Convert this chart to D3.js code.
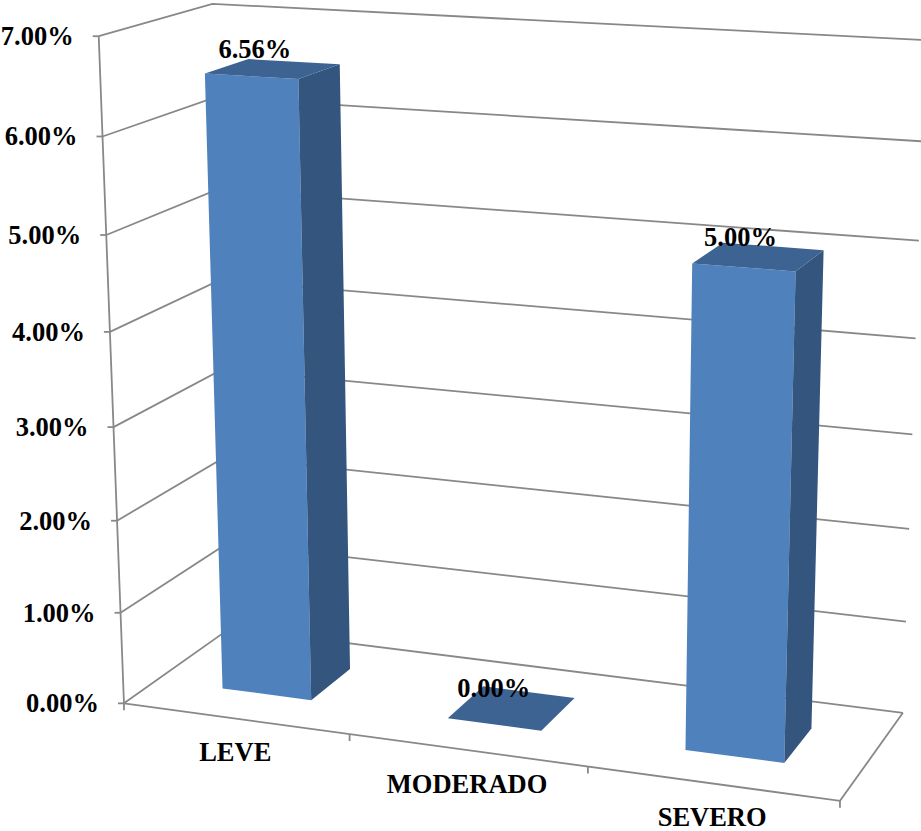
<!DOCTYPE html>
<html>
<head>
<meta charset="utf-8">
<script src="https://cdn.jsdelivr.net/npm/d3@7"></script>
<style>
  html, body { margin: 0; padding: 0; background: #fff; }
  svg { display: block; }
  text { font-family: "Liberation Serif", "Times New Roman", serif; font-weight: bold; fill: #000; }
</style>
</head>
<body>
<svg id="chart" width="921" height="831"></svg>
<script>
// ---------------- data ----------------
const categories = ["LEVE", "MODERADO", "SEVERO"];
const values = [6.56, 0.00, 5.00];
const valueLabels = ["6.56%", "0.00%", "5.00%"];
const yTicks = [0, 1, 2, 3, 4, 5, 6, 7];
const yTickLabels = ["0.00%", "1.00%", "2.00%", "3.00%", "4.00%", "5.00%", "6.00%", "7.00%"];

// ---------------- 3D frame calibration (world -> screen) ----------------
// world: x = category axis [0,3], y = value axis [0,7], z = depth [0 front, 1 back]
const calib = [
  [0,0,0,123,704],[0,1,0,120,612],[0,2,0,117,521],[0,3,0,113,427],[0,4,0,110,332],
  [0,5,0,107,233],[0,6,0,103,137],[0,7,0,100,37],
  [0,7,1,210,4],[0,0,1,232,628],
  [3,0,1,902.3,712.3],[3,1,1,905.7,622.3],[3,2,1,909,529],[3,3,1,912.7,434.3],
  [3,4,1,916,338.3],[3,5,1,919.3,240.7],
  [1,0,0,349,735],[2,0,0,588,767],[3,0,0,840,800]
];

function fitCamera(pts) {
  const cu = 460, cv = 400, s = 400;
  const rows = [], rhs = [];
  pts.forEach(([X, Y, Z, u0, v0]) => {
    const u = (u0 - cu) / s, v = (v0 - cv) / s;
    rows.push([X, Y, Z, 1, 0, 0, 0, 0, -u * X, -u * Y, -u * Z]); rhs.push(u);
    rows.push([0, 0, 0, 0, X, Y, Z, 1, -v * X, -v * Y, -v * Z]); rhs.push(v);
  });
  const n = 11;
  const M = Array.from({length: n}, () => new Array(n + 1).fill(0));
  rows.forEach((r, k) => {
    for (let i = 0; i < n; i++) {
      for (let j = 0; j < n; j++) M[i][j] += r[i] * r[j];
      M[i][n] += r[i] * rhs[k];
    }
  });
  for (let c = 0; c < n; c++) {
    let p = c;
    for (let r = c + 1; r < n; r++) if (Math.abs(M[r][c]) > Math.abs(M[p][c])) p = r;
    [M[c], M[p]] = [M[p], M[c]];
    for (let r = 0; r < n; r++) {
      if (r === c) continue;
      const f = M[r][c] / M[c][c];
      for (let j = c; j <= n; j++) M[r][j] -= f * M[c][j];
    }
  }
  const P = M.map((r, i) => r[n] / r[i]);
  return function (X, Y, Z) {
    const w = P[8] * X + P[9] * Y + P[10] * Z + 1;
    const u = (P[0] * X + P[1] * Y + P[2] * Z + P[3]) / w;
    const v = (P[4] * X + P[5] * Y + P[6] * Z + P[7]) / w;
    return [u * s + cu, v * s + cv];
  };
}
const proj = fitCamera(calib);

// ---------------- scales ----------------
const x = d3.scaleBand().domain(categories).range([0, 3]).paddingInner(0.6).paddingOuter(0.3);
const y = d3.scaleLinear().domain([0, 7]).range([0, 7]);
const zFront = 0.3, zBack = 0.7, zMin = 0, zMax = 1;
const xMin = 0, xMax = 3;

const svg = d3.select("#chart");
const gridColor = "#888888";
const line = d3.line();

// ---------------- walls: gridlines ----------------
const gGrid = svg.append("g").attr("fill", "none").attr("stroke", gridColor).attr("stroke-width", 1.8);
yTicks.forEach(t => {
  gGrid.append("path").attr("d", line([proj(xMin, y(t), zMin), proj(xMin, y(t), zMax), proj(xMax, y(t), zMax)]));
});
// value axis (front edge of side wall)
gGrid.append("path").attr("d", line([proj(xMin, y(0), zMin), proj(xMin, y(7), zMin)]));
// floor front edge (category axis) and right edge
gGrid.append("path").attr("d", line([proj(xMin, 0, zMin), proj(xMax, 0, zMin), proj(xMax, 0, zMax)]));
// value ticks
yTicks.forEach(t => {
  const p = proj(xMin, y(t), zMin);
  gGrid.append("path").attr("d", line([[p[0] - 6, p[1]], p]));
});
// category ticks
d3.range(0, 4).forEach(k => {
  const p = proj(k, 0, zMin);
  gGrid.append("path").attr("d", line([p, [p[0], p[1] + 7]]));
});

// ---------------- bars ----------------
const colFront = "#4f81bd", colSide = "#34557e", colTop = "#3c6392";
const gBars = svg.append("g");
categories.forEach((c, i) => {
  const x0 = x(c), x1 = x(c) + x.bandwidth();
  const v = y(values[i]);
  const poly = pts => gBars.append("path").attr("d", line(pts) + "Z");
  if (v > 0) {
    poly([proj(x0, 0, zFront), proj(x1, 0, zFront), proj(x1, v, zFront), proj(x0, v, zFront)]).attr("fill", colFront);
    poly([proj(x1, 0, zFront), proj(x1, 0, zBack), proj(x1, v, zBack), proj(x1, v, zFront)]).attr("fill", colSide);
  }
  poly([proj(x0, v, zFront), proj(x1, v, zFront), proj(x1, v, zBack), proj(x0, v, zBack)]).attr("fill", colTop);
});

// ---------------- text ----------------
const fs = 26.5;
const gText = svg.append("g").attr("font-size", fs);
yTicks.forEach((t, i) => {
  const p = proj(xMin, y(t), zMin);
  gText.append("text").attr("x", p[0] - 25).attr("y", p[1] + 9).attr("text-anchor", "end").text(yTickLabels[i]);
});
categories.forEach((c, i) => {
  const p = proj(x(c) + x.bandwidth() / 2, 0, zMin);
  gText.append("text").attr("x", p[0]).attr("y", p[1] + 43).attr("text-anchor", "middle").text(c);
});
categories.forEach((c, i) => {
  const p = proj(x(c) + x.bandwidth() / 2, y(values[i]), (zFront + zBack) / 2);
  gText.append("text").attr("x", p[0] - 18).attr("y", p[1] - 11).attr("text-anchor", "middle").text(valueLabels[i]);
});
</script>
</body>
</html>
